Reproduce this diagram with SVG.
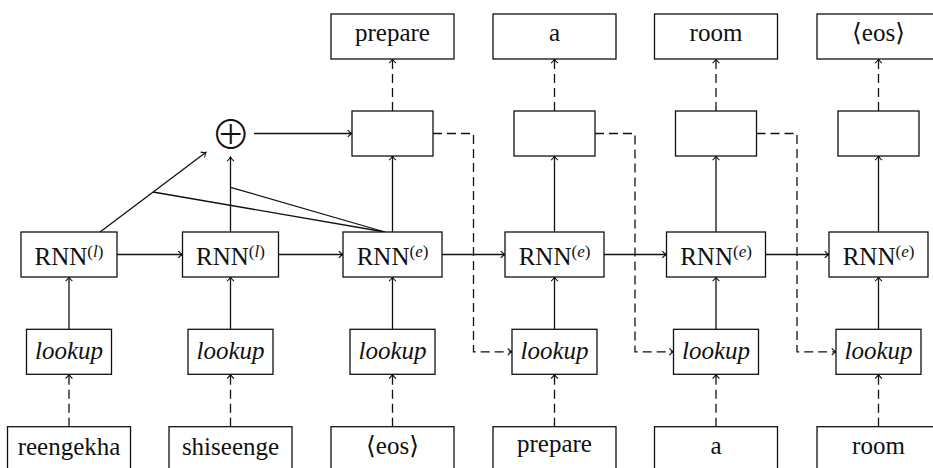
<svg xmlns="http://www.w3.org/2000/svg" width="933" height="468" viewBox="0 0 933 468">
  <style>
    .box { fill: #fff; stroke: #111; stroke-width: 1.3; }
    .ln { fill: none; stroke: #111; stroke-width: 1.3; }
    .dash { stroke-dasharray: 9 5; }
    .lbl { font-family: 'Liberation Serif', 'Times New Roman', Tinos, 'Noto Serif', 'DejaVu Serif', Times, serif; font-size: 25px; fill: #111; text-anchor: middle; }
    .it { font-style: italic; }
    .sup { font-size: 17px; }
    .op { font-family: 'Noto Sans CJK JP', 'Noto Sans CJK SC', 'DejaVu Sans', sans-serif; font-size: 40px; font-weight: 300; fill: #111; text-anchor: middle; }
  </style>
  <defs>
    <marker id="tip" markerUnits="userSpaceOnUse" markerWidth="10" markerHeight="10" viewBox="-6 -5 8 10" refX="0" refY="0" orient="auto">
      <path d="M-4.2,-3.4 C-2.6,-1.6 -0.9,-0.4 0,0 C-0.9,0.4 -2.6,1.6 -4.2,3.4" fill="none" stroke="#111" stroke-width="1.1" stroke-dasharray="none"/>
    </marker>
  </defs>

  <!-- connectors -->
  <g id="connectors" class="ln">
    <!-- input words to lookup -->
    <path class="dash" d="M69,426.7 V374.3" marker-end="url(#tip)"/>
    <path class="dash" d="M230.5,426.7 V374.3" marker-end="url(#tip)"/>
    <path class="dash" d="M392.5,426.7 V374.3" marker-end="url(#tip)"/>
    <path class="dash" d="M554.5,426.7 V374.3" marker-end="url(#tip)"/>
    <path class="dash" d="M716,426.7 V374.3" marker-end="url(#tip)"/>
    <path class="dash" d="M878.5,426.7 V374.3" marker-end="url(#tip)"/>
    <!-- lookup to RNN -->
    <path d="M69,329.3 V277" marker-end="url(#tip)"/>
    <path d="M230.5,329.3 V277" marker-end="url(#tip)"/>
    <path d="M392.5,329.3 V277" marker-end="url(#tip)"/>
    <path d="M554.5,329.3 V277" marker-end="url(#tip)"/>
    <path d="M716,329.3 V277" marker-end="url(#tip)"/>
    <path d="M878.5,329.3 V277" marker-end="url(#tip)"/>
    <!-- recurrent links -->
    <path d="M117,254.5 H182.5" marker-end="url(#tip)"/>
    <path d="M278.5,254.5 H343" marker-end="url(#tip)"/>
    <path d="M442,254.5 H505" marker-end="url(#tip)"/>
    <path d="M604,254.5 H666.5" marker-end="url(#tip)"/>
    <path d="M765.5,254.5 H829" marker-end="url(#tip)"/>
    <!-- encoder states into the sum -->
    <path d="M100,232 L206,152.3" marker-end="url(#tip)"/>
    <path d="M230.5,232 V157" marker-end="url(#tip)"/>
    <path d="M385,232 L153,192"/>
    <path d="M385,232 L230.5,187.3"/>
    <path d="M254,133.5 H352" marker-end="url(#tip)"/>
    <!-- decoder RNN to output layer -->
    <path d="M392.5,232 V156" marker-end="url(#tip)"/>
    <path d="M554.5,232 V156" marker-end="url(#tip)"/>
    <path d="M716,232 V156" marker-end="url(#tip)"/>
    <path d="M878.5,232 V156" marker-end="url(#tip)"/>
    <!-- output layer to predicted words -->
    <path class="dash" d="M392.5,111 V59" marker-end="url(#tip)"/>
    <path class="dash" d="M554.5,111 V59" marker-end="url(#tip)"/>
    <path class="dash" d="M716,111 V59" marker-end="url(#tip)"/>
    <path class="dash" d="M878.5,111 V59" marker-end="url(#tip)"/>
    <!-- prediction fed back to next lookup -->
    <path class="dash" d="M433,133.5 H473.5 V351.8 H512" marker-end="url(#tip)"/>
    <path class="dash" d="M595,133.5 H635 V351.8 H673.5" marker-end="url(#tip)"/>
    <path class="dash" d="M756.5,133.5 H797 V351.8 H836" marker-end="url(#tip)"/>
  </g>

  <!-- sum operator -->
  <g id="sum">
    <text class="op" x="230.7" y="149">⊕</text>
  </g>

  <!-- output words -->
  <g id="out-prepare"><rect class="box" x="331" y="14" width="123" height="45"/><text class="lbl" x="392.5" y="40.5">prepare</text></g>
  <g id="out-a"><rect class="box" x="493" y="14" width="123" height="45"/><text class="lbl" x="554.5" y="40.5">a</text></g>
  <g id="out-room"><rect class="box" x="654.5" y="14" width="123" height="45"/><text class="lbl" x="716" y="40.5">room</text></g>
  <g id="out-eos"><rect class="box" x="817" y="14" width="123" height="45"/><text class="lbl" x="878.5" y="40.5">⟨eos⟩</text></g>

  <!-- output layers -->
  <g id="proj-3"><rect class="box" x="352" y="111" width="81" height="45"/></g>
  <g id="proj-4"><rect class="box" x="514" y="111" width="81" height="45"/></g>
  <g id="proj-5"><rect class="box" x="675.5" y="111" width="81" height="45"/></g>
  <g id="proj-6"><rect class="box" x="838" y="111" width="81" height="45"/></g>

  <!-- recurrent units -->
  <g id="rnn-1"><rect class="box" x="21" y="232" width="96" height="45"/><text class="lbl" x="69" y="265">RNN<tspan class="sup" dy="-8">(<tspan class="it">l</tspan>)</tspan></text></g>
  <g id="rnn-2"><rect class="box" x="182.5" y="232" width="96" height="45"/><text class="lbl" x="230.5" y="265">RNN<tspan class="sup" dy="-8">(<tspan class="it">l</tspan>)</tspan></text></g>
  <g id="rnn-3"><rect class="box" x="343" y="232" width="99" height="45"/><text class="lbl" x="392.5" y="265">RNN<tspan class="sup" dy="-8">(<tspan class="it">e</tspan>)</tspan></text></g>
  <g id="rnn-4"><rect class="box" x="505" y="232" width="99" height="45"/><text class="lbl" x="554.5" y="265">RNN<tspan class="sup" dy="-8">(<tspan class="it">e</tspan>)</tspan></text></g>
  <g id="rnn-5"><rect class="box" x="666.5" y="232" width="99" height="45"/><text class="lbl" x="716" y="265">RNN<tspan class="sup" dy="-8">(<tspan class="it">e</tspan>)</tspan></text></g>
  <g id="rnn-6"><rect class="box" x="829" y="232" width="99" height="45"/><text class="lbl" x="878.5" y="265">RNN<tspan class="sup" dy="-8">(<tspan class="it">e</tspan>)</tspan></text></g>

  <!-- embedding lookups -->
  <g id="lookup-1"><rect class="box" x="26.5" y="329.3" width="85" height="45"/><text class="lbl it" x="69" y="359">lookup</text></g>
  <g id="lookup-2"><rect class="box" x="188" y="329.3" width="85" height="45"/><text class="lbl it" x="230.5" y="359">lookup</text></g>
  <g id="lookup-3"><rect class="box" x="350" y="329.3" width="85" height="45"/><text class="lbl it" x="392.5" y="359">lookup</text></g>
  <g id="lookup-4"><rect class="box" x="512" y="329.3" width="85" height="45"/><text class="lbl it" x="554.5" y="359">lookup</text></g>
  <g id="lookup-5"><rect class="box" x="673.5" y="329.3" width="85" height="45"/><text class="lbl it" x="716" y="359">lookup</text></g>
  <g id="lookup-6"><rect class="box" x="836" y="329.3" width="85" height="45"/><text class="lbl it" x="878.5" y="359">lookup</text></g>

  <!-- input words -->
  <g id="in-reengekha"><rect class="box" x="7.5" y="426.7" width="123" height="45"/><text class="lbl" x="69" y="455">reengekha</text></g>
  <g id="in-shiseenge"><rect class="box" x="169" y="426.7" width="123" height="45"/><text class="lbl" x="230.5" y="455">shiseenge</text></g>
  <g id="in-eos"><rect class="box" x="331" y="426.7" width="123" height="45"/><text class="lbl" x="392.5" y="454">⟨eos⟩</text></g>
  <g id="in-prepare"><rect class="box" x="493" y="426.7" width="123" height="45"/><text class="lbl" x="554.5" y="452">prepare</text></g>
  <g id="in-a"><rect class="box" x="654.5" y="426.7" width="123" height="45"/><text class="lbl" x="716" y="453.5">a</text></g>
  <g id="in-room"><rect class="box" x="817" y="426.7" width="123" height="45"/><text class="lbl" x="878.5" y="454">room</text></g>
</svg>
